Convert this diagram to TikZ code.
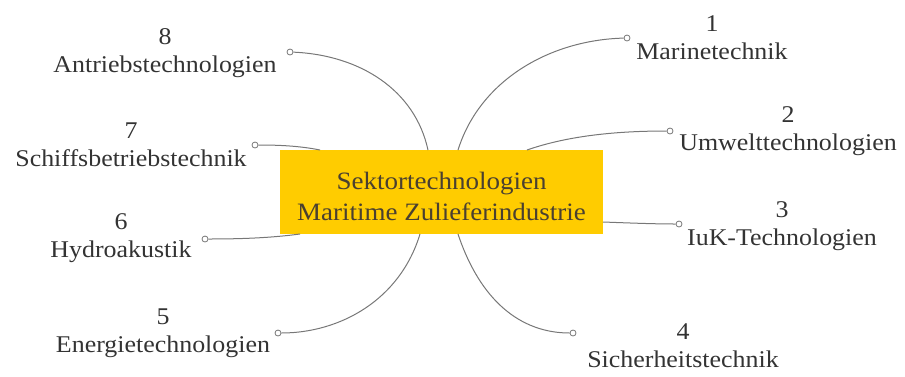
\documentclass[tikz,border=0pt]{standalone}
\usepackage{fontspec}
\setmainfont{Liberation Serif}[FakeStretch=1.08]
\definecolor{boxyellow}{HTML}{FFCC00}
\definecolor{txt}{HTML}{333333}
\definecolor{boxtxt}{HTML}{4A4030}
\definecolor{conn}{HTML}{777777}
\tikzset{
  lbl/.style={align=center, text=txt, font=\fontsize{24}{28}\selectfont, inner sep=0pt},
  enddot/.style={circle, draw=conn, fill=white, line width=0.8pt, minimum size=6pt, inner sep=0pt},
  conline/.style={draw=conn, line width=1pt},
  centerbox/.style={fill=boxyellow, text=boxtxt, align=center, minimum width=323pt, minimum height=84pt, inner sep=0pt, font=\fontsize{25}{31}\selectfont}
}
\begin{document}
\begin{tikzpicture}[x=1pt,y=-1pt]
\useasboundingbox (0,0) rectangle (905,376);
\node[centerbox] (c) at (441.5,192) {};
\node[text=boxtxt, align=center, inner sep=0pt, font=\fontsize{25}{31}\selectfont] (ct) at (441.5,196) {Sektortechnologien\\Maritime Zulieferindustrie};
% labels
\node[lbl] (l1) at (712,38) {1\\Marinetechnik};
\node[lbl] (l2) at (788,131) {2\\Umwelttechnologien};
\node[lbl] (l3) at (782,226) {3\\IuK-Technologien};
\node[lbl] (l4) at (683,346) {4\\Sicherheitstechnik};
\node[lbl] (l5) at (163,333) {5\\Energietechnologien};
\node[lbl] (l6) at (121,238) {6\\Hydroakustik};
\node[lbl] (l7) at (131,145) {7\\Schiffsbetriebstechnik};
\node[lbl] (l8) at (165,53) {8\\Antriebstechnologien};
% end dots
\node[enddot] (p1) at (627,38) {};
\node[enddot] (p2) at (670,131) {};
\node[enddot] (p3) at (679,224) {};
\node[enddot] (p4) at (573,333) {};
\node[enddot] (p5) at (278,333) {};
\node[enddot] (p6) at (205,239) {};
\node[enddot] (p7) at (255,145) {};
\node[enddot] (p8) at (290,52) {};
% attachment points on the box
\coordinate (a1) at (458,150);
\coordinate (a2) at (527,150);
\coordinate (a3) at (603,222);
\coordinate (a4) at (458,234);
\coordinate (a5) at (420,234);
\coordinate (a6) at (300,234);
\coordinate (a7) at (320,150);
\coordinate (a8) at (428,150);
% connectors
\draw[conline] (a1) .. controls (480,80) and (550,40) .. (p1);
\draw[conline] (a2) .. controls (570,135) and (620,131) .. (p2);
\draw[conline] (a3) .. controls (630,223) and (655,224) .. (p3);
\draw[conline] (a4) .. controls (480,300) and (520,333) .. (p4);
\draw[conline] (a5) .. controls (400,300) and (340,333) .. (p5);
\draw[conline] (a6) .. controls (270,238) and (240,239) .. (p6);
\draw[conline] (a7) .. controls (300,146) and (280,145) .. (p7);
\draw[conline] (a8) .. controls (415,90) and (360,55) .. (p8);
\end{tikzpicture}
\end{document}
